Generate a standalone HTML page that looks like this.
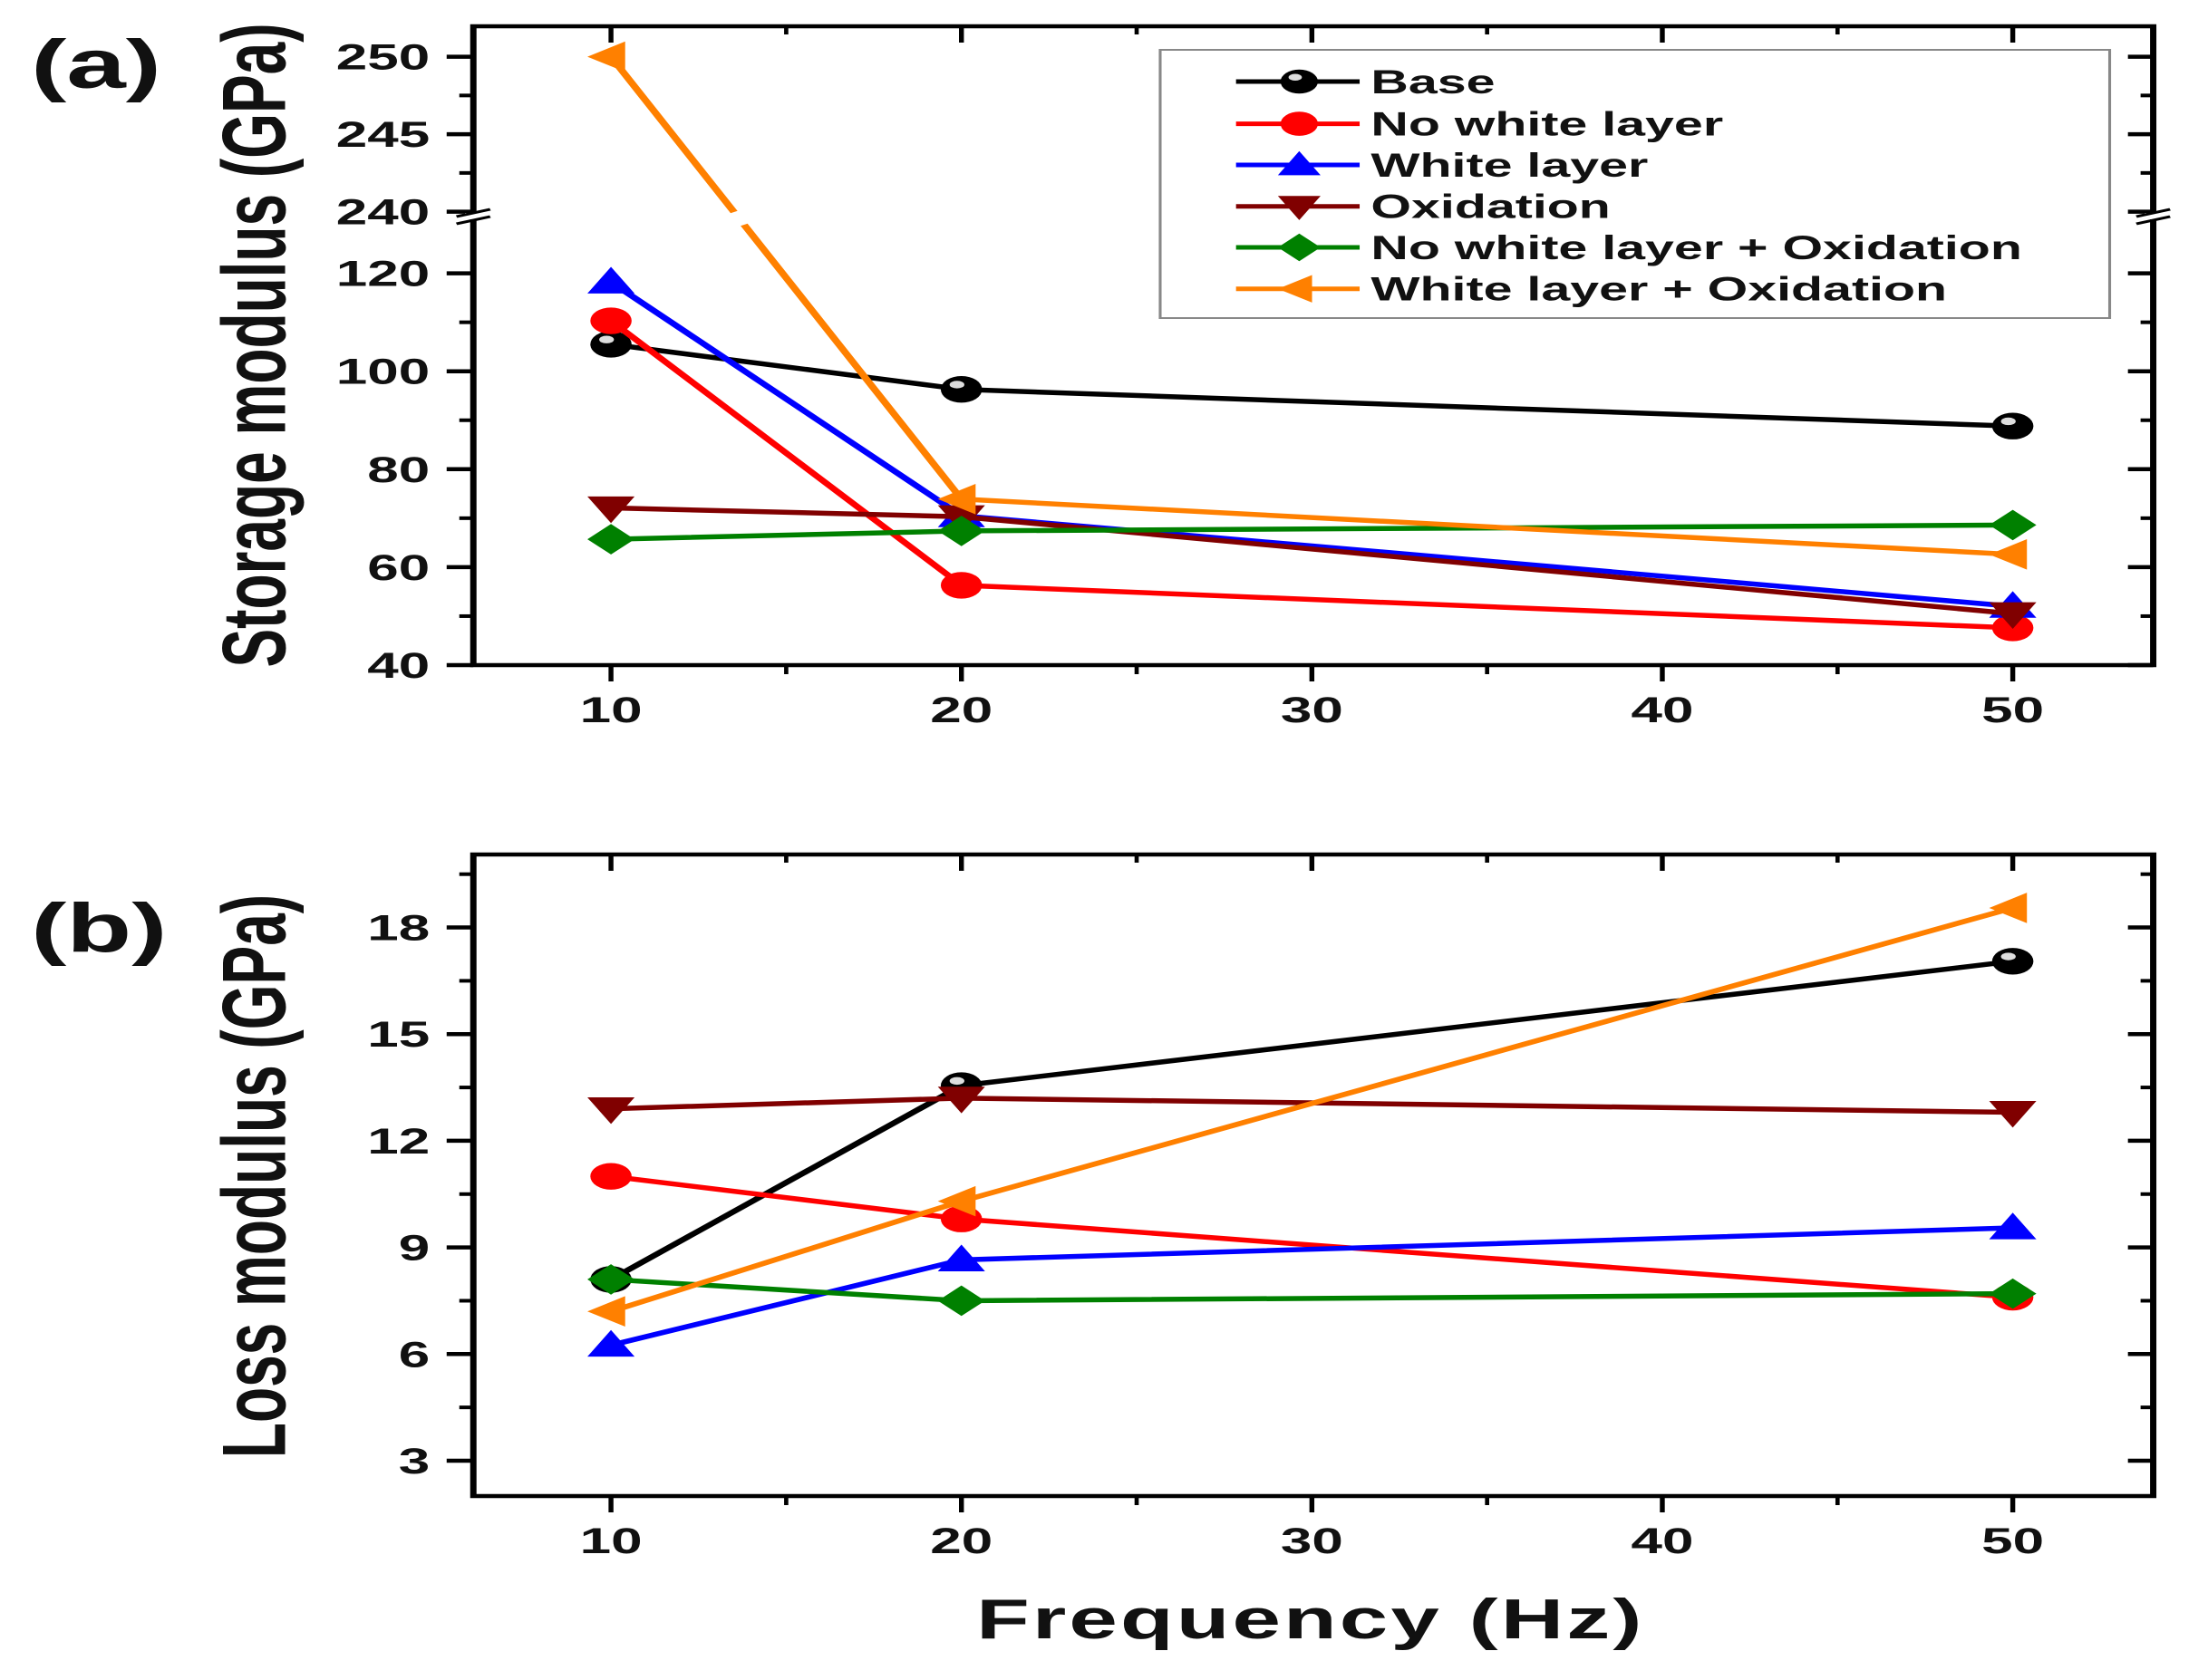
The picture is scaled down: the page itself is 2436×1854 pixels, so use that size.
<!DOCTYPE html>
<html><head><meta charset="utf-8"><style>
html,body{margin:0;padding:0;background:#fff;}
svg{display:block;}
text{font-family:"Liberation Sans",Arial,sans-serif;font-weight:bold;fill:#111;}
</style></head><body>
<svg id="fig" width="2436" height="1854" viewBox="0 0 1572 1854" preserveAspectRatio="none" xmlns="http://www.w3.org/2000/svg">
<rect x="0" y="0" width="1572" height="1854" fill="#fff"/>
<text x="22" y="97" font-size="76">(a)</text>
<text x="22" y="1050" font-size="76">(b)</text>
<text transform="translate(203,381) rotate(-90)" text-anchor="middle" font-size="64">Storage modulus (GPa)</text>
<text transform="translate(203,1298) rotate(-90)" text-anchor="middle" font-size="64">Loss modulus (GPa)</text>
<text x="933" y="1808" text-anchor="middle" font-size="62" letter-spacing="2">Frequency (Hz)</text>
<g id="top"></g>
<g id="bot"></g>
</svg>
<script>
const freqs = [10, 20, 50];
const seriesNames = ["Base","No white layer","White layer","Oxidation","No white layer + Oxidation","White layer + Oxidation"];
const seriesColors = ["#000","#ff0000","#0000ff","#800000","#008000","#ff8000"];
const seriesMarkers = ["ball","circle","up","down","diamond","left"];
const storageBase = [105.5, 96.3, 88.8];
const storageNoWhite = [110.3, 56.3, 47.6];
const storageWhite = [118.2, 70.5, 52.0];
const storageOxid = [72.1, 70.3, 50.5];
const storageNoWhiteOx = [65.7, 67.4, 68.6];
const storageWhiteOx = [250, 73.9, 62.6];
const lossBase = [8.1, 13.55, 17.05];
const lossNoWhite = [11.0, 9.8, 7.6];
const lossWhite = [6.25, 8.65, 9.55];
const lossOxid = [12.9, 13.2, 12.8];
const lossNoWhiteOx = [8.1, 7.5, 7.7];
const lossWhiteOx = [7.2, 10.3, 18.55];
const xTicks = [10, 20, 30, 40, 50];
const xMinor = [15, 25, 35, 45];
const storageLowTicks = [40, 60, 80, 100, 120];
const storageLowMinor = [50, 70, 90, 110];
const storageHighTicks = [240, 245, 250];
const storageHighMinor = [242.5, 247.5];
const lossTicks = [3, 6, 9, 12, 15, 18];
const lossMinor = [4.5, 7.5, 10.5, 13.5, 16.5, 19.5];

const NS = "http://www.w3.org/2000/svg";
const L = 337, R = 1533;
function xs(f){ return 435 + (f - 10) * 24.95; }
function ysTop(v){ return v >= 239 ? 62.6 + (250 - v) * 17.1 : 734 - (v - 40) * 5.405; }
function ysBot(v){ return 1612 - (v - 3) * 39.23; }
function mk(tag, attrs, parent){
  const e = document.createElementNS(NS, tag);
  for (const k in attrs) e.setAttribute(k, attrs[k]);
  parent.appendChild(e);
  return e;
}
function marker(g, type, cx, cy, color, s){
  let e;
  if (type === "ball" || type === "circle"){
    e = mk("circle", {cx:cx, cy:cy, r:14*s, fill:color}, g);
    if (type === "ball"){ mk("ellipse", {cx:cx-3*s, cy:cy-5*s, rx:5*s, ry:4*s, fill:"#ddd"}, g); }
  } else {
    const r = 16*s; let p;
    if (type === "up") p = [[cx,cy-r],[cx+r,cy+r*0.75],[cx-r,cy+r*0.75]];
    else if (type === "down") p = [[cx-r,cy-r*0.75],[cx+r,cy-r*0.75],[cx,cy+r]];
    else if (type === "diamond") p = [[cx,cy-r],[cx+r,cy],[cx,cy+r],[cx-r,cy]];
    else p = [[cx-r,cy],[cx+r*0.6,cy-r],[cx+r*0.6,cy+r]];
    e = mk("polygon", {points:p.map(q=>q.join(",")).join(" "), fill:color}, g);
  }
  return e;
}
function axes(g, top, bottom, ys, majorY, minorY, labelYs, xLabelY, breakY){
  let e = mk("rect", {x:L, y:top, width:R-L, height:bottom-top, fill:"none", stroke:"#000", "stroke-width":4.5}, g);
  
  
  xTicks.forEach(t => {
    const x = xs(t);
    mk("line", {x1:x, y1:bottom, x2:x, y2:bottom+18, stroke:"#000", "stroke-width":3.5}, g);
    mk("line", {x1:x, y1:top, x2:x, y2:top+18, stroke:"#000", "stroke-width":3.5}, g);
    const tx = mk("text", {x:x, y:xLabelY, "text-anchor":"middle", "font-size":40}, g);
    tx.textContent = t;
    
    
  });
  xMinor.forEach(t => {
    const x = xs(t);
    mk("line", {x1:x, y1:bottom, x2:x, y2:bottom+10, stroke:"#000", "stroke-width":3}, g);
    mk("line", {x1:x, y1:top, x2:x, y2:top+9, stroke:"#000", "stroke-width":3}, g);
  });
  majorY.forEach(v => {
    const y = ys(v);
    mk("line", {x1:L-19, y1:y, x2:L, y2:y, stroke:"#000", "stroke-width":4.5}, g);
    mk("line", {x1:R-18, y1:y, x2:R, y2:y, stroke:"#000", "stroke-width":4.5}, g);
    const tx = mk("text", {x:306, y:y+14, "text-anchor":"end", "font-size":40}, g);
    tx.textContent = v;
    
    
  });
  minorY.forEach(v => {
    const y = ys(v);
    mk("line", {x1:L-10, y1:y, x2:L, y2:y, stroke:"#000", "stroke-width":4}, g);
    mk("line", {x1:R-9, y1:y, x2:R, y2:y, stroke:"#000", "stroke-width":4}, g);
  });
  if (breakY){
    [L, R].forEach(x => {
      mk("rect", {x:x-6, y:breakY-3, width:12, height:7, fill:"#fff"}, g);
      mk("line", {x1:x-12, y1:breakY+1, x2:x+12, y2:breakY-7, stroke:"#000", "stroke-width":3}, g);
      mk("line", {x1:x-12, y1:breakY+9, x2:x+12, y2:breakY+1, stroke:"#000", "stroke-width":3}, g);
    });
  }
}
function series(g, arrs, ys, breakY){
  arrs.forEach((vals, i) => {
    const c = seriesColors[i];
    const pts = vals.map((v, j) => [xs(freqs[j]), ys(v)]);
    const pl = mk("polyline", {points:pts.map(p=>p.join(",")).join(" "), fill:"none", stroke:c, "stroke-width":5.5}, g);
    
    
    if (breakY){
      for (let j = 0; j < pts.length - 1; j++){
        const a = pts[j], b = pts[j+1];
        if ((a[1]-breakY)*(b[1]-breakY) < 0){
          const f1 = (breakY-6-a[1])/(b[1]-a[1]), f2 = (breakY+8-a[1])/(b[1]-a[1]);
          mk("line", {x1:a[0]+(b[0]-a[0])*f1, y1:breakY-6, x2:a[0]+(b[0]-a[0])*f2, y2:breakY+8, stroke:"#fff", "stroke-width":9}, g);
        }
      }
    }
    pts.forEach(p => {
      const m = marker(g, seriesMarkers[i], p[0], p[1], c, 1.05);
      
      
    });
  });
}
const gt = document.getElementById("top");
const gb = document.getElementById("bot");
axes(gt, 29, 734, ysTop, storageLowTicks.concat(storageHighTicks), storageLowMinor.concat(storageHighMinor), null, 797, 238);
series(gt, [storageBase, storageNoWhite, storageWhite, storageOxid, storageNoWhiteOx, storageWhiteOx], ysTop, 240);
axes(gb, 943, 1651, ysBot, lossTicks, lossMinor, null, 1714, 0);
series(gb, [lossBase, lossNoWhite, lossWhite, lossOxid, lossNoWhiteOx, lossWhiteOx], ysBot, 0);

const lg = mk("g", {}, gt);


mk("rect", {x:826, y:55, width:676, height:296, fill:"#fff", stroke:"#888", "stroke-width":2}, lg);
const legY = [90, 136.6, 182, 227.7, 273, 318.7];
seriesNames.forEach((n, i) => {
  const y = legY[i];
  const ln = mk("line", {x1:880, y1:y, x2:968, y2:y, stroke:seriesColors[i], "stroke-width":5}, lg);
  
  
  const m = marker(lg, seriesMarkers[i], 925, y, seriesColors[i], 0.95);
  
  
  const t = mk("text", {x:976, y:y+13, "font-size":37}, lg);
  t.textContent = n;
  
  
});
</script>
</body></html>
